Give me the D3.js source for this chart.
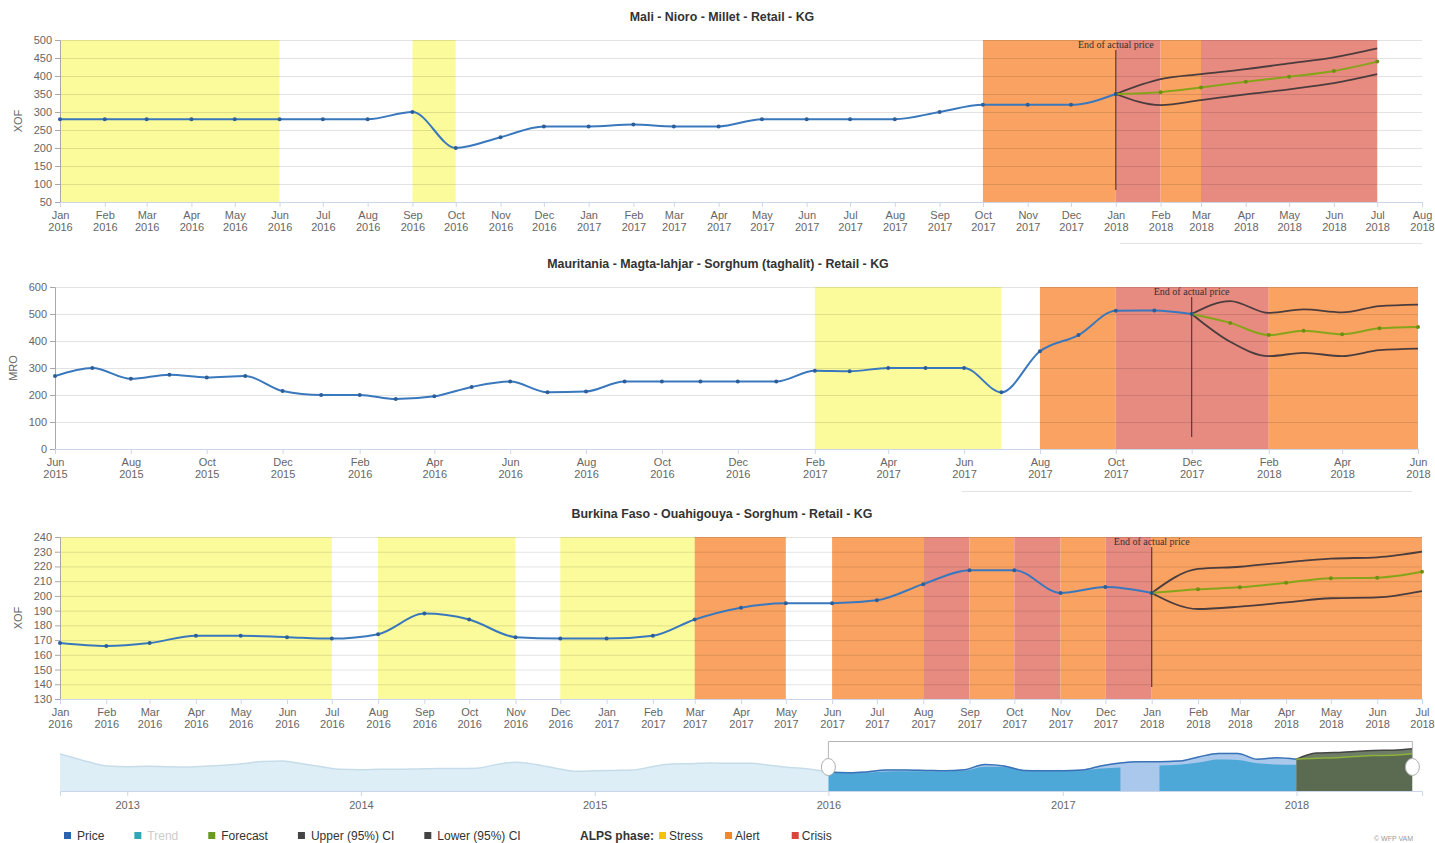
<!DOCTYPE html>
<html>
<head>
<meta charset="utf-8">
<script src="https://cdn.jsdelivr.net/npm/d3@7"></script>
<style>
  body { margin: 0; background: #fff; }
  svg { font-family: "Liberation Sans", Arial, sans-serif; }
  .title { font-size: 12.4px; font-weight: bold; fill: #333; }
  .axis text { font-size: 11px; fill: #666; }
  .endLabel { font-family: "Liberation Serif", "DejaVu Serif", serif; font-size: 10px; fill: #333; }
  .legend text { font-size: 12px; fill: #333; }
</style>
</head>
<body>
<div id="chart"></div>
<script>
// ---- Data ----
// Mali - Nioro - Millet (monthly, from Jan 2016)
var maliStart = "2016-01";
var maliPrice = [280, 280, 280, 280, 280, 280, 280, 280, 300, 200, 230, 260,
                 260, 265, 260, 260, 280, 280, 280, 280, 300, 320, 320, 320, 350];
var maliFcStart = "2018-01";
var maliForecast = [350, 355, 368, 384, 398, 414, 440];
var maliUpper = [350, 391, 405, 419, 435, 452, 477];
var maliLower = [350, 319, 333, 349, 363, 380, 405];
var maliBands = [["2016-01", "2016-06", "Stress"], ["2016-09", "2016-10", "Stress"],
                 ["2017-10", "2018-01", "Alert"], ["2018-01", "2018-02", "Crisis"],
                 ["2018-02", "2018-03", "Alert"], ["2018-03", "2018-07", "Crisis"]];
var maliYTicks = [50, 100, 150, 200, 250, 300, 350, 400, 450, 500];

// Mauritania - Magta-lahjar - Sorghum (monthly, from Jun 2015)
var mauStart = "2015-06";
var mauPrice = [270, 300, 260, 275, 265, 270, 215,
                200, 200, 185, 195, 230, 250, 210, 213, 250, 250, 250, 250,
                250, 290, 288, 300, 300, 300, 210, 362, 422, 512, 513, 500];
var mauFcStart = "2017-12";
var mauForecast = [500, 467, 422, 438, 425, 447, 452];
var mauUpper = [500, 548, 504, 517, 506, 529, 535];
var mauLower = [500, 397, 344, 356, 344, 366, 372];
var mauBands = [["2017-02", "2017-07", "Stress"], ["2017-08", "2017-10", "Alert"],
                ["2017-10", "2018-02", "Crisis"], ["2018-02", "2018-06", "Alert"]];
var mauYTicks = [0, 100, 200, 300, 400, 500, 600];

// Burkina Faso - Ouahigouya - Sorghum (monthly, from Jan 2016)
var bfStart = "2016-01";
var bfPrice = [168, 166, 168, 173, 173, 172, 171, 174, 188, 184, 172, 171,
               171, 173, 184, 192, 195, 195, 197, 208, 217.5, 217.5, 202, 206, 202];
var bfFcStart = "2018-01";
var bfForecast = [202, 204.5, 205.8, 209, 212, 212.4, 216.4];
var bfUpper = [202, 218.3, 219.8, 222.8, 225.3, 226.2, 230];
var bfLower = [202, 191.1, 192.7, 195.6, 198.4, 199, 203.3];
var bfBands = [["2016-01", "2016-07", "Stress"], ["2016-08", "2016-11", "Stress"],
               ["2016-12", "2017-03", "Stress"], ["2017-03", "2017-05", "Alert"],
               ["2017-06", "2017-08", "Alert"], ["2017-08", "2017-09", "Crisis"],
               ["2017-09", "2017-10", "Alert"], ["2017-10", "2017-11", "Crisis"],
               ["2017-11", "2017-12", "Alert"], ["2017-12", "2018-01", "Crisis"],
               ["2018-01", "2018-07", "Alert"]];
var bfYTicks = [130, 140, 150, 160, 170, 180, 190, 200, 210, 220, 230, 240];

// Navigator: earlier Burkina prices (monthly, from Sep 2012) and trend
var navStart = "2012-09";
var navHistory = [223, 210, 195, 184,
                  182, 183, 182, 181, 183, 186, 190, 196, 197, 190, 182, 175,
                  174, 175, 175, 176, 177, 177, 178, 188, 194, 188, 178, 170,
                  171, 172, 173, 182, 189, 190, 192, 191, 191, 186, 180, 176];
var navTrendStart = "2016-01";
var navTrend = [166, 165, 166, 169, 170, 170, 170, 172, 182, 181, 173, 171,
                171, 172, 177, 180, null, 185, 187, 193, 201, 200, 191, 188, 187];
var navYears = ["2013", "2014", "2015", "2016", "2017", "2018"];

var legendSeries = [["Price", "#2a64b0", true], ["Trend", "#2fa8b5", false],
                    ["Forecast", "#6a9a1f", true], ["Upper (95%) CI", "#444", true],
                    ["Lower (95%) CI", "#444", true]];
var legendPhases = ["Stress", "Alert", "Crisis"];

var bandColor = { Stress: "#fbfb9b", Alert: "#f9a261", Crisis: "#e78a80" };
var phaseColor = { Stress: "#f4c20d", Alert: "#f0872a", Crisis: "#d9463e" };

// ---- Setup ----
var svgWidth = 1435;
var svgHeight = 843;
var parseMonth = d3.timeParse("%Y-%m");
var fmtMon = d3.timeFormat("%b");
var fmtYear = d3.timeFormat("%Y");

var svg = d3.select("#chart")
  .append("svg")
  .attr("width", svgWidth)
  .attr("height", svgHeight);

function monthSeries(start, values) {
  var s = parseMonth(start);
  return values.map(function(v, i) {
    return { date: d3.timeMonth.offset(s, i), value: v };
  });
}

function drawChart(cfg) {
  var g = svg.append("g");
  var x = d3.scaleTime()
    .domain([parseMonth(cfg.xMin), parseMonth(cfg.xMax)])
    .range([cfg.left, cfg.right]);
  var y = d3.scaleLinear()
    .domain([cfg.yTicks[0], cfg.yTicks[cfg.yTicks.length - 1]])
    .range([cfg.bottom, cfg.top]);

  // title
  g.append("text")
    .attr("class", "title")
    .attr("x", cfg.titleX)
    .attr("y", cfg.top - 19)
    .attr("text-anchor", "middle")
    .text(cfg.title);

  // ALPS phase bands
  g.selectAll("rect.band")
    .data(cfg.bands)
    .enter()
    .append("rect")
    .attr("class", "band")
    .attr("x", d => x(parseMonth(d[0])))
    .attr("width", d => x(parseMonth(d[1])) - x(parseMonth(d[0])))
    .attr("y", cfg.top)
    .attr("height", cfg.bottom - cfg.top)
    .attr("fill", d => bandColor[d[2]]);

  // grid lines
  g.selectAll("line.grid")
    .data(cfg.yTicks.slice(1))
    .enter()
    .append("line")
    .attr("x1", cfg.left)
    .attr("x2", cfg.right)
    .attr("y1", d => y(d) + 0.5)
    .attr("y2", d => y(d) + 0.5)
    .attr("stroke", "rgba(0,0,0,0.11)");

  // y axis
  var yAxis = g.append("g")
    .attr("class", "axis")
    .attr("transform", `translate(${cfg.left},0)`)
    .call(d3.axisLeft(y).tickValues(cfg.yTicks).tickSize(5).tickPadding(3));
  yAxis.select(".domain").attr("stroke", "#a8a8a8");
  yAxis.selectAll(".tick line").attr("stroke", "#a8a8a8");

  g.append("text")
    .attr("transform", `translate(${cfg.left - 38}, ${(cfg.top + cfg.bottom) / 2}) rotate(-90)`)
    .attr("text-anchor", "middle")
    .attr("font-size", 11)
    .attr("fill", "#666")
    .text(cfg.unit);

  // x axis with two-line month labels
  var ticks = d3.timeMonth.range(parseMonth(cfg.xMin), d3.timeDay.offset(parseMonth(cfg.xMax), 1), cfg.step);
  var xAxis = g.append("g")
    .attr("class", "axis")
    .attr("transform", `translate(0,${cfg.bottom})`)
    .call(d3.axisBottom(x).tickValues(ticks).tickSize(5).tickFormat(""));
  xAxis.select(".domain").attr("stroke", "#ccd6eb");
  xAxis.selectAll(".tick line").attr("stroke", "#ccd6eb");
  xAxis.selectAll(".tick").append("text")
    .attr("fill", "#666")
    .attr("text-anchor", "middle")
    .each(function(d) {
      var t = d3.select(this);
      t.append("tspan").attr("x", 0).attr("y", 17).text(fmtMon(d));
      t.append("tspan").attr("x", 0).attr("y", 29).text(fmtYear(d));
    });

  // series
  var line = d3.line()
    .x(d => x(d.date))
    .y(d => y(d.value))
    .curve(d3.curveMonotoneX);

  var price = monthSeries(cfg.start, cfg.price);
  var fc = monthSeries(cfg.fcStart, cfg.forecast);
  var up = monthSeries(cfg.fcStart, cfg.upper);
  var lo = monthSeries(cfg.fcStart, cfg.lower);

  g.append("path").datum(up).attr("d", line)
    .attr("fill", "none").attr("stroke", "#4b3d3d").attr("stroke-width", 1.8);
  g.append("path").datum(lo).attr("d", line)
    .attr("fill", "none").attr("stroke", "#4b3d3d").attr("stroke-width", 1.8);
  g.append("path").datum(fc).attr("d", line)
    .attr("fill", "none").attr("stroke", "#86a41a").attr("stroke-width", 2);
  g.selectAll("circle.fc")
    .data(fc)
    .enter()
    .append("circle")
    .attr("cx", d => x(d.date))
    .attr("cy", d => y(d.value))
    .attr("r", 2)
    .attr("fill", "#6f8f14");

  g.append("path").datum(price).attr("d", line)
    .attr("fill", "none").attr("stroke", "#3a78bd").attr("stroke-width", 2);
  g.selectAll("circle.price")
    .data(price)
    .enter()
    .append("circle")
    .attr("cx", d => x(d.date))
    .attr("cy", d => y(d.value))
    .attr("r", 2)
    .attr("fill", "#2c5f99");

  // end of actual price marker
  var ex = x(parseMonth(cfg.fcStart));
  g.append("line")
    .attr("x1", ex).attr("x2", ex)
    .attr("y1", cfg.top + 10)
    .attr("y2", cfg.bottom - 12)
    .attr("stroke", "#4a4040")
    .attr("stroke-width", 1.2);
  g.append("text")
    .attr("class", "endLabel")
    .attr("x", ex)
    .attr("y", cfg.top + 8)
    .attr("text-anchor", "middle")
    .text("End of actual price");
}

drawChart({
  title: "Mali - Nioro - Millet - Retail - KG", unit: "XOF", titleX: 722,
  left: 60, right: 1422, top: 40, bottom: 202,
  xMin: "2016-01", xMax: "2018-08", step: 1, yTicks: maliYTicks,
  bands: maliBands, start: maliStart, price: maliPrice,
  fcStart: maliFcStart, forecast: maliForecast, upper: maliUpper, lower: maliLower
});

drawChart({
  title: "Mauritania - Magta-lahjar - Sorghum (taghalit) - Retail - KG", unit: "MRO", titleX: 718,
  left: 55, right: 1418, top: 287, bottom: 449,
  xMin: "2015-06", xMax: "2018-06", step: 2, yTicks: mauYTicks,
  bands: mauBands, start: mauStart, price: mauPrice,
  fcStart: mauFcStart, forecast: mauForecast, upper: mauUpper, lower: mauLower
});

drawChart({
  title: "Burkina Faso - Ouahigouya - Sorghum - Retail - KG", unit: "XOF", titleX: 722,
  left: 60, right: 1422, top: 537, bottom: 699,
  xMin: "2016-01", xMax: "2018-07", step: 1, yTicks: bfYTicks,
  bands: bfBands, start: bfStart, price: bfPrice,
  fcStart: bfFcStart, forecast: bfForecast, upper: bfUpper, lower: bfLower
});

// faint scrollbar-like rules under the first two charts
svg.append("line").attr("x1", 1120).attr("x2", 1422).attr("y1", 243.5).attr("y2", 243.5).attr("stroke", "#e3e3e3");
svg.append("line").attr("x1", 962).attr("x2", 1412).attr("y1", 491.5).attr("y2", 491.5).attr("stroke", "#e3e3e3");

// ---- Navigator ----
var navX = d3.scaleTime()
  .domain([new Date(2012, 8, 18), new Date(2018, 6, 16)])
  .range([60, 1422]);
var navY = d3.scaleLinear().domain([117, 232]).range([791, 748]);

svg.append("clipPath").attr("id", "navclip")
  .append("rect")
  .attr("x", navX.range()[0]).attr("y", 730)
  .attr("width", navX.range()[1] - navX.range()[0]).attr("height", 70);

var nav = svg.append("g");
var navPlot = nav.append("g").attr("clip-path", "url(#navclip)");

var navAll = monthSeries(navStart, navHistory).concat(monthSeries(bfStart, bfPrice));
var navArea = d3.area()
  .x(d => navX(d.date)).y0(navY(117)).y1(d => navY(d.value))
  .defined(d => d.value != null)
  .curve(d3.curveMonotoneX);
var navLine = d3.line()
  .x(d => navX(d.date)).y(d => navY(d.value))
  .defined(d => d.value != null)
  .curve(d3.curveMonotoneX);

navPlot.append("path").datum(navAll).attr("d", navArea).attr("fill", "#deeef7");
navPlot.append("path").datum(navAll).attr("d", navLine)
  .attr("fill", "none").attr("stroke", "#c6dde9").attr("stroke-width", 1.5);

var selStart = parseMonth(bfStart);
var selEnd = parseMonth("2018-07");
svg.append("clipPath").attr("id", "sel")
  .append("rect")
  .attr("x", navX(selStart)).attr("y", 730)
  .attr("width", navX(selEnd) - navX(selStart)).attr("height", 70);

var inside = nav.append("g").attr("clip-path", "url(#sel)");
inside.append("path").datum(navAll).attr("d", navArea).attr("fill", "#a9c8eb");
inside.append("path").datum(monthSeries(navTrendStart, navTrend)).attr("d", navArea).attr("fill", "#4ea8d7");
inside.append("path").datum(monthSeries(bfFcStart, bfUpper)).attr("d", navArea).attr("fill", "#6e7e66");
inside.append("path").datum(monthSeries(bfFcStart, bfForecast)).attr("d", navArea).attr("fill", "#5a6b51");
inside.append("path").datum(navAll).attr("d", navLine)
  .attr("fill", "none").attr("stroke", "#3a72b8").attr("stroke-width", 1.5);
inside.append("path").datum(monthSeries(bfFcStart, bfUpper)).attr("d", navLine)
  .attr("fill", "none").attr("stroke", "#444").attr("stroke-width", 1.5);
inside.append("path").datum(monthSeries(bfFcStart, bfForecast)).attr("d", navLine)
  .attr("fill", "none").attr("stroke", "#8db13a").attr("stroke-width", 1.5);

// navigator axis
var navAxis = nav.append("g")
  .attr("class", "axis")
  .attr("transform", "translate(0,791)")
  .call(d3.axisBottom(navX)
    .tickValues(navYears.map(d3.timeParse("%Y")))
    .tickSize(5).tickPadding(5)
    .tickFormat(d3.timeFormat("%Y")));
navAxis.select(".domain").attr("stroke", "#ccd6eb");
navAxis.selectAll(".tick line").attr("stroke", "#ccd6eb");

// selection outline and handles
var hx0 = navX(selStart), hx1 = navX(selEnd);
nav.append("path")
  .attr("d", `M${hx0},767V741.5H${hx1}V767`)
  .attr("fill", "none").attr("stroke", "#b5b5b5");
nav.selectAll("ellipse.handle")
  .data([hx0, hx1])
  .enter()
  .append("ellipse")
  .attr("cx", d => d).attr("cy", 767)
  .attr("rx", 7).attr("ry", 8.5)
  .attr("fill", "#fff").attr("stroke", "#b0b0b0");

// ---- Legend ----
var legend = svg.append("g").attr("class", "legend");
var lx = 64;
legendSeries.forEach(function(item) {
  legend.append("rect")
    .attr("x", lx).attr("y", 832).attr("width", 7).attr("height", 7)
    .attr("fill", item[1]);
  var t = legend.append("text")
    .attr("x", lx + 13).attr("y", 840)
    .style("fill", item[2] ? "#333" : "#cccccc")
    .text(item[0]);
  lx += 13 + t.node().getComputedTextLength() + 30;
});

var px = 580;
var alps = legend.append("text")
  .attr("x", px).attr("y", 840)
  .attr("font-weight", "bold")
  .text("ALPS phase:");
px += alps.node().getComputedTextLength() + 5;
legendPhases.forEach(function(p, i) {
  legend.append("rect")
    .attr("x", px).attr("y", 832).attr("width", 7).attr("height", 7)
    .attr("fill", phaseColor[p]);
  var t = legend.append("text")
    .attr("x", px + 10).attr("y", 840)
    .text(p);
  px += 10 + t.node().getComputedTextLength() + (i === 0 ? 22 : 32);
});

svg.append("text")
  .attr("x", 1374).attr("y", 841)
  .attr("font-size", 7)
  .attr("fill", "#999")
  .text("© WFP VAM");
</script>
</body>
</html>
